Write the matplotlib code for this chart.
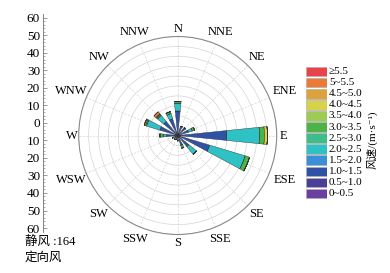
import numpy as np
import matplotlib
matplotlib.use("Agg")
import matplotlib.pyplot as plt

plt.rcParams['font.family'] = ['Liberation Serif', 'Noto Sans CJK SC', 'DejaVu Sans']

# 16 compass directions, clockwise from north
directions = ['N', 'NNE', 'NE', 'ENE', 'E', 'ESE', 'SE', 'SSE',
              'S', 'SSW', 'SW', 'WSW', 'W', 'WNW', 'NW', 'NNW']

# wind speed classes (m/s), low to high
speed_labels = ['0~0.5', '0.5~1.0', '1.0~1.5', '1.5~2.0', '2.0~2.5', '2.5~3.0',
                '3.0~3.5', '3.5~4.0', '4.0~4.5', '4.5~5.0', '5~5.5', '≥5.5']
speed_colors = ['#6b3fa0', '#4b3d9a', '#2f52a6', '#3b8fd8', '#2ec2c4', '#3dbd8a',
                '#4cb447', '#9dcb54', '#d8d24a', '#dca23e', '#ec7a36', '#e8434b']

# frequency per direction for each speed class
f_00_05 = [0.4, 0.4, 0.4, 0.4, 0.5, 0.5, 0.4, 0.4, 0.4, 0.4, 0.4, 0.4, 0.4, 0.4, 0.4, 0.4]
f_05_10 = [0.6, 0.5, 0.5, 0.5, 0.8, 0.8, 0.6, 0.5, 0.5, 0.4, 0.4, 0.5, 0.6, 0.6, 0.6, 0.6]
f_10_15 = [11.4, 4.0, 3.5, 4.8, 23.5, 15.6, 6.3, 4.3, 1.8, 1.4, 1.6, 2.0, 4.6, 8.4, 8.1, 7.8]
f_15_20 = [0, 0, 0, 0, 0, 0, 0, 0, 0, 0, 0, 0, 0, 0, 0, 0]
f_20_25 = [4.0, 0, 0.8, 2.0, 16.5, 18.7, 5.0, 0, 0, 0, 0, 0, 1.8, 7.1, 4.1, 2.8]
f_25_30 = [0, 0, 0, 0, 0, 0, 0, 0, 0, 0, 0, 0, 0, 0, 0, 0]
f_30_35 = [0.8, 0, 0, 1.2, 2.5, 2.3, 0, 1.5, 0, 0, 0, 0, 1.6, 0.6, 0.7, 1.0]
f_35_40 = [0, 0, 0, 0, 0, 0, 0, 0, 0, 0, 0, 0, 0, 0, 0, 0]
f_40_45 = [0, 0, 0, 0, 1.5, 0, 0, 0, 0, 0, 0, 0, 0, 0.6, 0.3, 0]
f_45_50 = [0, 0, 0, 0, 0, 0, 0, 0, 0, 0, 0, 0, 0, 0, 0, 0]
f_50_55 = [0, 0, 0, 0, 0, 0, 0, 0, 0, 0, 0, 0, 0, 0, 1.3, 0]
f_55_up = [0, 0, 0, 0, 0, 0, 0, 0, 0, 0, 0, 0, 0, 0, 0, 0]

calm_count = 164
side_ticks = [-60, -50, -40, -30, -20, -10, 0, 10, 20, 30, 40, 50, 60]

freqs = [f_00_05, f_05_10, f_10_15, f_15_20, f_20_25, f_25_30,
         f_30_35, f_35_40, f_40_45, f_45_50, f_50_55, f_55_up]

fig = plt.figure(figsize=(3.9, 2.73), dpi=100)

# ---- wind rose ----
ax = fig.add_axes([0.2018, 0.141, 0.5077, 0.7253], projection='polar')
ax.set_theta_zero_location('N')
ax.set_theta_direction(-1)

theta = np.deg2rad(np.arange(len(directions)) * 22.5)
width = np.deg2rad(11.5)
bottom = np.zeros(len(directions))
for vals, col in zip(freqs, speed_colors):
    vals = np.array(vals)
    ax.bar(theta, vals, width=width, bottom=bottom, color=col,
           edgecolor='#303030', linewidth=0.3, zorder=3)
    bottom += vals

rmax = 50
ax.set_ylim(0, rmax)
ax.set_rgrids(np.arange(5, 51, 5), labels=[])
ax.set_thetagrids(np.arange(0, 360, 22.5), labels=[])
ax.yaxis.grid(True, color='#d4d4d4', linewidth=0.5)
ax.xaxis.grid(True, color='#d4d4d4', linewidth=0.5, linestyle=(0, (3, 2)))
ax.spines['polar'].set_color('#8a8a8a')
ax.spines['polar'].set_linewidth(0.8)
ax.tick_params(axis='x', length=0)

# direction labels: centred, pushed out by half the text extent
px_per_unit = 99 / rmax
for ang, lab in zip(theta, directions):
    s, c = abs(np.sin(ang)), abs(np.cos(ang))
    w = 8.5 * len(lab)
    r_px = 102 + 0.5 * w * s + 5 * c
    ax.text(ang, r_px / px_per_unit, lab, ha='center', va='center',
            fontsize=9, clip_on=False)

# ---- decorative side scale ----
ax2 = fig.add_axes([0.110, 0.152, 0.001, 0.795])
ax2.set_ylim(-62, 62)
ax2.set_xticks([])
for sp in ['top', 'right', 'bottom']:
    ax2.spines[sp].set_visible(False)
ax2.spines['left'].set_color('#707070')
ax2.spines['left'].set_linewidth(0.6)
ax2.set_yticks(side_ticks)
ax2.set_yticklabels([str(abs(v)) for v in side_ticks[::-1]], fontsize=9.5)
ax2.set_yticks(np.arange(-60, 61, 2), minor=True)
ax2.tick_params(axis='y', which='major', direction='in', length=3, width=0.5,
                pad=2, color='#707070')
ax2.tick_params(axis='y', which='minor', direction='in', length=1.5, width=0.4,
                color='#707070')
ax2.patch.set_alpha(0)

# ---- colour legend ----
axl = fig.add_axes([0.785, 0.271, 0.054, 0.487])
pos = np.arange(len(speed_labels))
axl.barh(pos, 1, height=0.86, color=speed_colors, edgecolor='#b0b0b0', linewidth=0.5)
axl.set_xlim(0, 1)
axl.set_ylim(-0.5, len(speed_labels) - 0.5)
axl.axis('off')
for p, lab in zip(pos, speed_labels):
    axl.text(1.08, p, lab, ha='left', va='center', fontsize=8,
             transform=axl.get_yaxis_transform())

fig.text(0.954, 0.487, '风速/(m·s⁻¹)', rotation=90, ha='center', va='center', fontsize=8)

fig.text(0.064, 0.114, f'静风 :{calm_count}', ha='left', va='center', fontsize=9)
fig.text(0.064, 0.055, '定向风', ha='left', va='center', fontsize=9)

fig.savefig('out.png', dpi=100)
